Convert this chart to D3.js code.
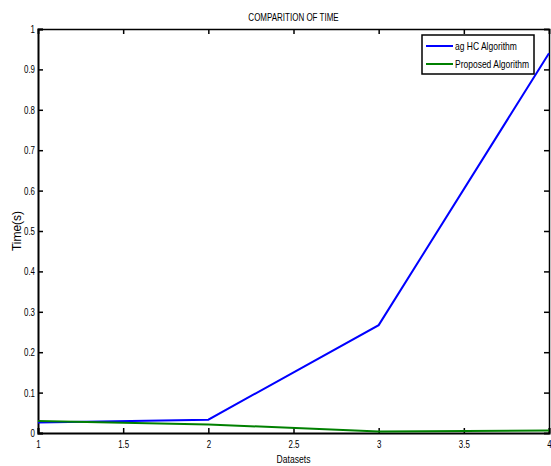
<!DOCTYPE html>
<html>
<head>
<meta charset="utf-8">
<script src="https://cdn.jsdelivr.net/npm/d3@7"></script>
<style>
  body { margin: 0; background: #fff; }
  text { font-family: "Liberation Sans", Arial, sans-serif; fill: #000; }
</style>
</head>
<body>
<div id="chart"></div>
<script>
// data
var datasets = [1, 2, 3, 4];
var agHC = [0.026, 0.033, 0.267, 0.94];
var proposed = [0.030, 0.021, 0.004, 0.006];
var seriesNames = ['ag HC Algorithm', 'Proposed Algorithm'];
var seriesColors = ['#0000ff', '#008000'];
var xTicks = [1, 1.5, 2, 2.5, 3, 3.5, 4];
var yTicks = [0, 0.1, 0.2, 0.3, 0.4, 0.5, 0.6, 0.7, 0.8, 0.9, 1];

var width = 551, height = 466;
var margin = { top: 29, right: 2, bottom: 33, left: 38 };
var innerW = width - margin.left - margin.right;
var innerH = height - margin.top - margin.bottom;

var svg = d3.select('#chart').append('svg')
  .attr('width', width)
  .attr('height', height);

var g = svg.append('g')
  .attr('transform', 'translate(' + margin.left + ',' + margin.top + ')');

var x = d3.scaleLinear().domain([1, 4]).range([0, innerW]);
var y = d3.scaleLinear().domain([0, 1]).range([innerH, 0]);

// the original font is a narrow helvetica, so squeeze text horizontally
function condense(sel, k) {
  k = k || 0.8;
  sel.each(function() {
    var t = d3.select(this);
    var tx = +t.attr('x') || 0, ty = +t.attr('y') || 0;
    t.attr('x', null).attr('y', null)
      .attr('transform', 'translate(' + tx + ',' + ty + ') scale(' + k + ',1)');
  });
}

// axes, matlab style: ticks point inward, mirrored on top/right
var tickLen = 5;
var fmt = function(d) { return d3.format('')(d); };

var xAxis = g.append('g')
  .attr('transform', 'translate(0,' + innerH + ')')
  .call(d3.axisBottom(x).tickValues(xTicks).tickSize(-tickLen).tickPadding(7).tickFormat(fmt));
var xTop = g.append('g')
  .call(d3.axisTop(x).tickValues(xTicks).tickSize(-tickLen).tickFormat(''));
var yAxis = g.append('g')
  .call(d3.axisLeft(y).tickValues(yTicks).tickSize(-tickLen).tickPadding(3).tickFormat(fmt));
var yRight = g.append('g')
  .attr('transform', 'translate(' + innerW + ',0)')
  .call(d3.axisRight(y).tickValues(yTicks).tickSize(-tickLen).tickFormat(''));

[xAxis, xTop, yAxis, yRight].forEach(function(a) {
  a.selectAll('.domain').attr('stroke', '#000').attr('stroke-width', 1.5);
  a.selectAll('.tick line').attr('stroke', '#000').attr('stroke-width', 1.5);
  a.selectAll('text').style('font-size', '11px')
    .style('font-family', '"Liberation Sans", Arial, sans-serif');
});
yAxis.select('.domain').attr('stroke-width', 2);
xAxis.select('.domain').attr('stroke-width', 2);
xAxis.selectAll('text').call(condense, 0.72);
yAxis.selectAll('text').call(condense, 0.72);

// lines
var line = d3.line()
  .x(function(d, i) { return x(datasets[i]); })
  .y(function(d) { return y(d); });

[agHC, proposed].forEach(function(vals, i) {
  g.append('path')
    .datum(vals)
    .attr('fill', 'none')
    .attr('stroke', seriesColors[i])
    .attr('stroke-width', 2)
    .attr('d', line);
});

// title and labels
svg.append('text')
  .attr('x', margin.left + innerW / 2)
  .attr('y', 21)
  .attr('text-anchor', 'middle')
  .style('font-size', '10px')
  .text('COMPARITION OF TIME')
  .call(condense, 0.8);

svg.append('text')
  .attr('x', margin.left + innerW / 2)
  .attr('y', 463)
  .attr('text-anchor', 'middle')
  .style('font-size', '10px')
  .text('Datasets')
  .call(condense, 0.86);

svg.append('text')
  .attr('transform', 'translate(21,' + (margin.top + innerH / 2) + ') rotate(-90)')
  .attr('text-anchor', 'middle')
  .style('font-size', '12px')
  .text('Time(s)');

// legend
var legend = svg.append('g').attr('transform', 'translate(422,35)');
legend.append('rect')
  .attr('width', 112)
  .attr('height', 39)
  .attr('fill', '#fff')
  .attr('stroke', '#000')
  .attr('stroke-width', 1.5);

seriesNames.forEach(function(name, i) {
  var ly = 11 + i * 18;
  legend.append('line')
    .attr('x1', 4).attr('x2', 31)
    .attr('y1', ly).attr('y2', ly)
    .attr('stroke', seriesColors[i])
    .attr('stroke-width', 2);
  legend.append('text')
    .attr('x', 33)
    .attr('y', ly + 3.5)
    .style('font-size', '10px')
    .text(name)
    .call(condense, 0.85);
});
</script>
</body>
</html>
